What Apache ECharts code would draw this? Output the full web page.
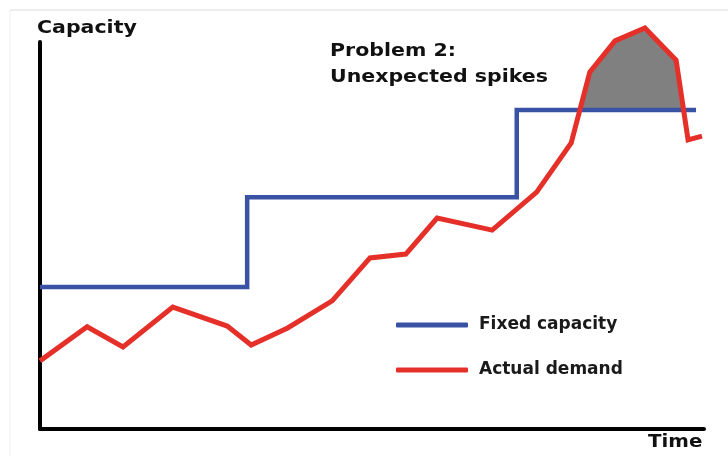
<!DOCTYPE html>
<html>
<head>
<meta charset="utf-8">
<script src="https://cdn.jsdelivr.net/npm/echarts@6/dist/echarts.min.js"></script>
<style>html,body{margin:0;padding:0;background:#fff;}#c{width:728px;height:456px;}</style>
</head>
<body>
<div id="c"></div>
<script>
// Time positions (0-100) and values (0-100 capacity scale)
var demandTime  = [0, 7.1, 12.5, 20.0, 28.2, 31.8, 37.3, 44.0, 49.7, 55.1, 59.8, 68.1, 74.8, 80.0, 82.8, 86.6, 91.1, 95.8, 97.6, 99.7];
var demandValue = [17.6, 26.4, 21.2, 31.5, 26.6, 21.7, 26.1, 33.1, 44.2, 45.2, 54.5, 51.4, 61.2, 73.9, 92.2, 100.3, 103.6, 95.3, 74.7, 75.7];
var capacityTime  = [0, 31.2, 31.2, 71.8, 71.8, 98.8];
var capacityValue = [36.7, 36.7, 59.9, 59.9, 82.4, 82.4];
var seriesNames = ['Fixed capacity', 'Actual demand'];
var axisNames = ['Time', 'Capacity'];
var titleLines = ['Problem 2:', 'Unexpected spikes'];

var BLUE = '#3a52a4', RED = '#e5302a', GRAY = '#808080';
var FONT = '"DejaVu Sans", Verdana, sans-serif';

var demand = demandTime.map(function (t, i) { return [t, demandValue[i]]; });
var capacity = capacityTime.map(function (t, i) { return [t, capacityValue[i]]; });

// Spike region: where demand exceeds the final capacity level
var topCap = capacityValue[capacityValue.length - 1];
var spike = [];
for (var i = 1; i < demand.length; i++) {
  var a = demand[i - 1], b = demand[i];
  if ((a[1] - topCap) * (b[1] - topCap) < 0) {
    var f = (topCap - a[1]) / (b[1] - a[1]);
    spike.push([a[0] + f * (b[0] - a[0]), topCap]);
  }
  if (b[1] > topCap) spike.push(b);
}

var chart = echarts.init(document.getElementById('c'), null, { renderer: 'canvas' });
chart.setOption({
  animation: false,
  backgroundColor: '#fff',
  grid: { left: 40, right: 24, top: 42, bottom: 27 },
  xAxis: {
    type: 'value', min: 0, max: 100,
    axisLine: { show: true, lineStyle: { color: '#000', width: 4 } },
    axisTick: { show: false }, axisLabel: { show: false }, splitLine: { show: false }
  },
  yAxis: {
    type: 'value', min: 0, max: 100,
    axisLine: { show: true, lineStyle: { color: '#000', width: 4 } },
    axisTick: { show: false }, axisLabel: { show: false }, splitLine: { show: false }
  },
  legend: {
    data: seriesNames,
    orient: 'vertical',
    left: 391, top: 310,
    itemWidth: 72, itemHeight: 5, itemGap: 25,
    icon: 'roundRect',
    textStyle: { fontFamily: FONT, fontWeight: 'bold', fontSize: 17, color: '#1a1a1a', lineHeight: 20, padding: [0, 0, 0, 6] }
  },
  graphic: [
    { type: 'line', shape: { x1: 10, y1: 10, x2: 728, y2: 10 }, style: { stroke: '#dcdcdc', lineWidth: 1 } },
    { type: 'line', shape: { x1: 10, y1: 10, x2: 10, y2: 456 }, style: { stroke: '#eeeeee', lineWidth: 1 } },
    { type: 'text', x: 37, y: 19, scaleX: 1.14, style: { text: axisNames[1], font: 'bold 18px ' + FONT, fill: '#111', verticalAlign: 'top' } },
    { type: 'text', x: 648, y: 433, scaleX: 1.1, style: { text: axisNames[0], font: 'bold 18px ' + FONT, fill: '#111', verticalAlign: 'top' } },
    { type: 'text', x: 330, y: 38, scaleX: 1.14, style: { text: titleLines.join('\n'), font: 'bold 18px ' + FONT, fill: '#111', lineHeight: 26, verticalAlign: 'top' } }
  ],
  series: [
    {
      name: 'spike', type: 'line', data: spike, clip: false, silent: true,
      showSymbol: false, lineStyle: { width: 0 },
      areaStyle: { color: GRAY, opacity: 1, origin: topCap }, z: 1
    },
    {
      name: seriesNames[0], type: 'line', data: capacity, clip: false,
      showSymbol: false, color: BLUE,
      lineStyle: { color: BLUE, width: 4.5, join: 'miter' }, z: 2
    },
    {
      name: seriesNames[1], type: 'line', data: demand, clip: false,
      showSymbol: false, color: RED,
      lineStyle: { color: RED, width: 5, join: 'miter' }, z: 3
    }
  ]
});
</script>
</body>
</html>
